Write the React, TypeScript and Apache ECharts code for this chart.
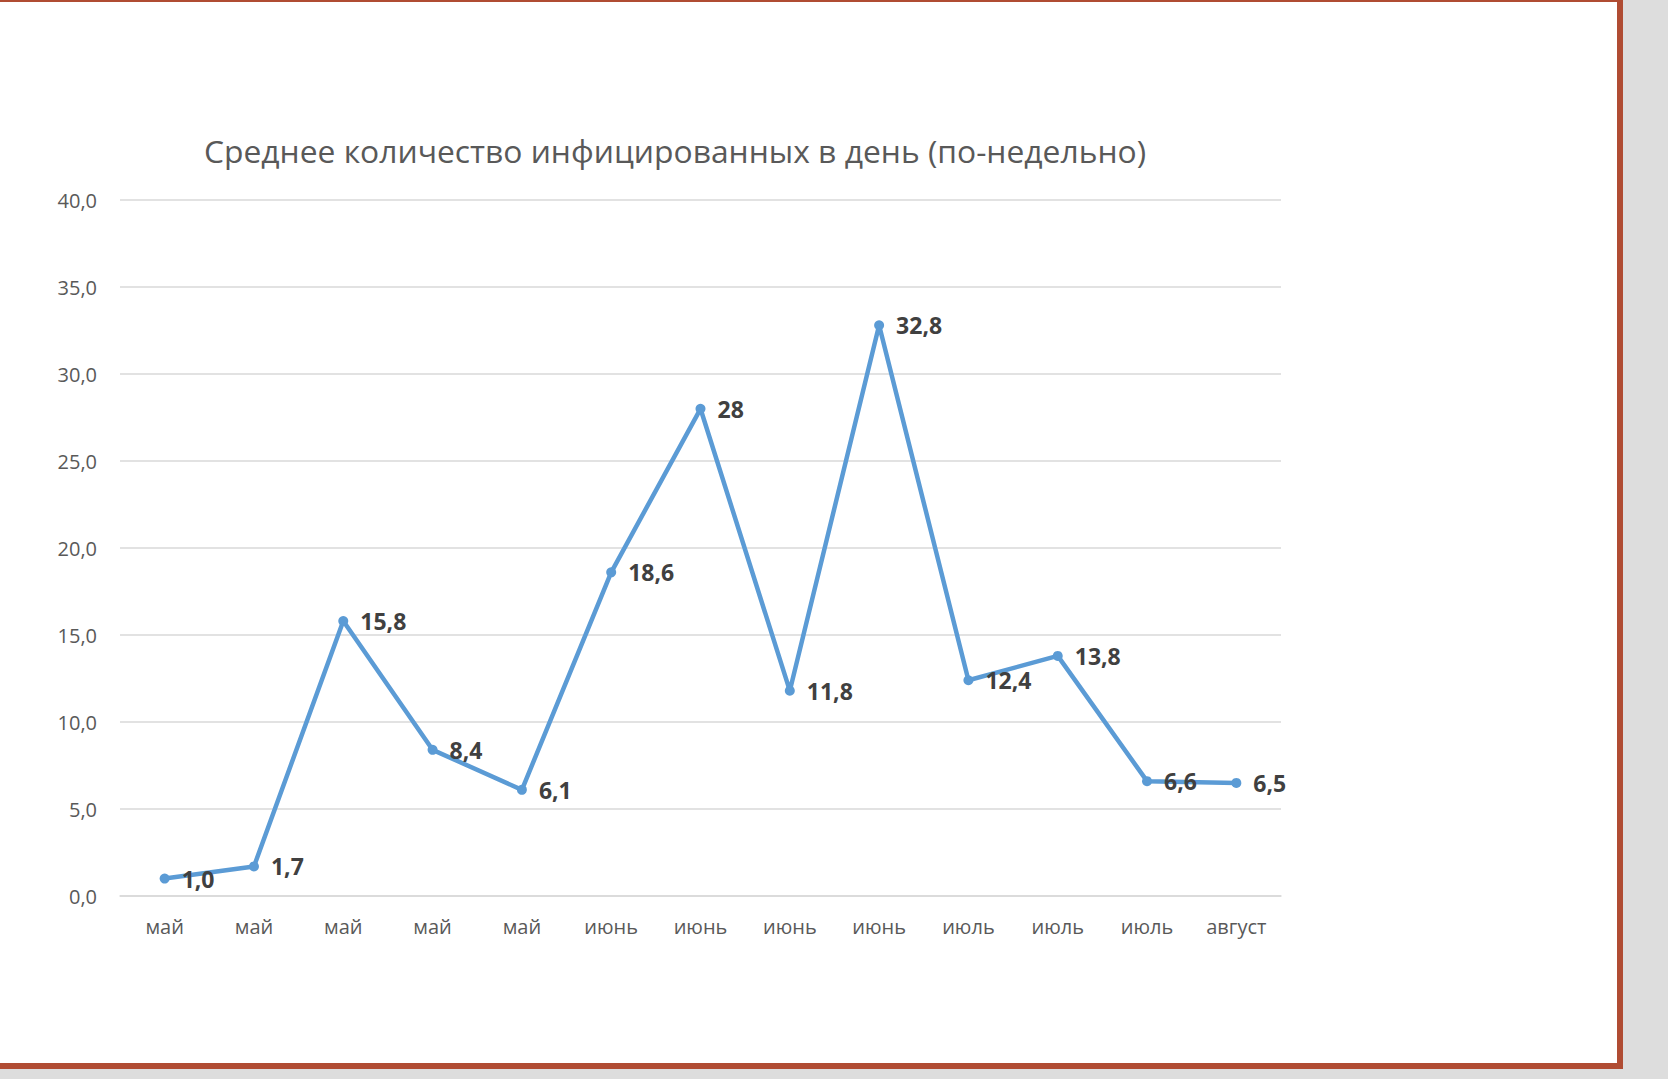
import React, { useEffect, useRef } from "react";
import * as echarts from "echarts";

const categories = ["май", "май", "май", "май", "май", "июнь", "июнь", "июнь", "июнь", "июль", "июль", "июль", "август"];
const values = [1.0, 1.7, 15.8, 8.4, 6.1, 18.6, 28, 11.8, 32.8, 12.4, 13.8, 6.6, 6.5];
const valueLabels = ["1,0", "1,7", "15,8", "8,4", "6,1", "18,6", "28", "11,8", "32,8", "12,4", "13,8", "6,6", "6,5"];
const titleText = "Среднее количество инфицированных в день (по-недельно)";

export default function App() {
  const ref = useRef<HTMLDivElement>(null);
  useEffect(() => {
    if (!ref.current) return;
    const chart = echarts.init(ref.current, undefined, { renderer: "svg" });
    chart.setOption({
      animation: false,
      backgroundColor: "transparent",
      textStyle: { fontFamily: "Open Sans" },
      title: {
        text: titleText,
        left: 670,
        top: 129,
        textAlign: "center",
        textStyle: { fontSize: 31.8, fontWeight: "normal", color: "#595959", fontFamily: "Open Sans" },
      },
      grid: { left: 120, right: 387, top: 200, bottom: 183, containLabel: false },
      xAxis: {
        type: "category",
        data: categories,
        boundaryGap: true,
        axisLine: { show: true, lineStyle: { color: "#d9d9d9", width: 1.5 } },
        axisTick: { show: false },
        axisLabel: { color: "#595959", fontSize: 20, margin: 20, interval: 0, fontFamily: "Open Sans" },
      },
      yAxis: {
        type: "value",
        min: 0,
        max: 40,
        interval: 5,
        axisLine: { show: false },
        axisTick: { show: false },
        splitLine: { lineStyle: { color: "#d9d9d9", width: 1.5 } },
        axisLabel: {
          color: "#595959",
          fontSize: 20,
          margin: 23,
          fontFamily: "Open Sans",
          formatter: (v: number) => v.toFixed(1).replace(".", ","),
        },
      },
      series: [
        {
          type: "line",
          data: values,
          symbol: "circle",
          symbolSize: 10,
          lineStyle: { color: "#5b9bd5", width: 4.5 },
          itemStyle: { color: "#5b9bd5" },
          label: {
            show: true,
            position: "right",
            distance: 12,
            fontSize: 23,
            fontWeight: "bold",
            color: "#404040",
            fontFamily: "Open Sans",
            formatter: (p: any) => valueLabels[p.dataIndex],
          },
        },
      ],
    });
    return () => chart.dispose();
  }, []);

  return (
    <div style={{ position: "fixed", left: 0, top: 0, width: 1668, height: 1079, background: "#dddddd" }}>
      <div
        style={{
          position: "absolute",
          left: 0,
          top: 0,
          width: 1617,
          height: 1061,
          background: "#ffffff",
          borderTop: "2px solid #b04c33",
          borderRight: "6px solid #b04c33",
          borderBottom: "6px solid #b04c33",
        }}
      />
      <div ref={ref} style={{ position: "absolute", left: 0, top: 0, width: 1668, height: 1079 }} />
    </div>
  );
}
